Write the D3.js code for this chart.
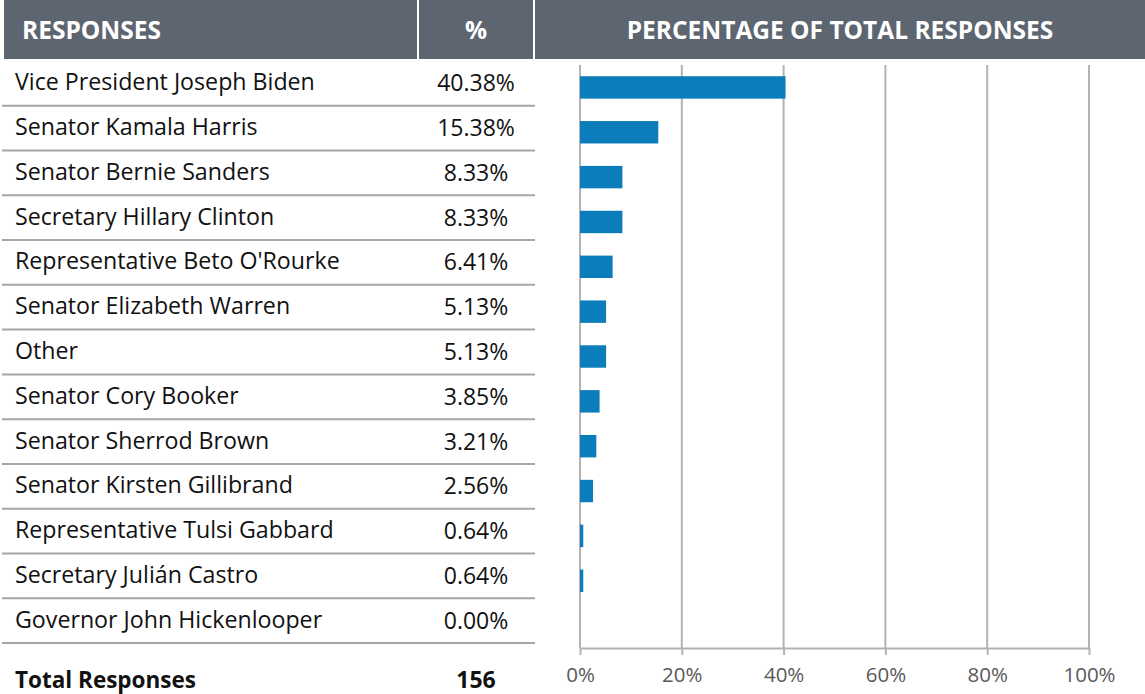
<!DOCTYPE html>
<html>
<head>
<meta charset="utf-8">
<script src="https://cdn.jsdelivr.net/npm/d3@7"></script>
<style>
  body { margin: 0; background: #fff; }
  svg { display: block; font-family: "Open Sans", sans-serif; }
</style>
</head>
<body>
<div id="chart"></div>
<script>
const responses = [
  "Vice President Joseph Biden",
  "Senator Kamala Harris",
  "Senator Bernie Sanders",
  "Secretary Hillary Clinton",
  "Representative Beto O'Rourke",
  "Senator Elizabeth Warren",
  "Other",
  "Senator Cory Booker",
  "Senator Sherrod Brown",
  "Senator Kirsten Gillibrand",
  "Representative Tulsi Gabbard",
  "Secretary Julián Castro",
  "Governor John Hickenlooper"
];
const percents = [40.38, 15.38, 8.33, 8.33, 6.41, 5.13, 5.13, 3.85, 3.21, 2.56, 0.64, 0.64, 0.00];
const axisTicks = [0, 20, 40, 60, 80, 100];
const headers = ["RESPONSES", "%", "PERCENTAGE OF TOTAL RESPONSES"];
const totalLabel = "Total Responses";
const totalValue = 156;

const width = 1145, height = 694;
const rows = responses.map((name, i) => ({ name, pct: percents[i] }));

const svg = d3.select("#chart").append("svg")
  .attr("width", width)
  .attr("height", height);

// header band
const cols = [
  { x0: 4, x1: 418, anchor: "start", tx: 22 },
  { x0: 418, x1: 534, anchor: "middle", tx: 476 },
  { x0: 534, x1: width, anchor: "middle", tx: 840 }
];
svg.append("rect")
  .attr("x", 4).attr("y", 0)
  .attr("width", width - 4).attr("height", 59)
  .attr("fill", "#5d6670");
cols.slice(1).forEach(c => {
  svg.append("line")
    .attr("x1", c.x0).attr("x2", c.x0)
    .attr("y1", 0).attr("y2", 59)
    .attr("stroke", "#fff").attr("stroke-width", 2);
});
svg.append("g").selectAll("text")
  .data(headers)
  .join("text")
  .attr("x", (d, i) => cols[i].tx)
  .attr("y", 39)
  .attr("text-anchor", (d, i) => cols[i].anchor)
  .attr("fill", "#fff")
  .attr("font-weight", "bold")
  .attr("font-size", 24.5)
  .text(d => d);

// table rows
const rowY = d3.scaleBand()
  .domain(responses)
  .range([61, 643]);

const table = svg.append("g");
table.selectAll("line")
  .data(rows)
  .join("line")
  .attr("x1", 2).attr("x2", 535)
  .attr("y1", d => rowY(d.name) + rowY.bandwidth())
  .attr("y2", d => rowY(d.name) + rowY.bandwidth())
  .attr("stroke", "#a6a6a6").attr("stroke-width", 2);

table.selectAll("text.name")
  .data(rows)
  .join("text")
  .attr("class", "name")
  .attr("x", 15)
  .attr("y", d => rowY(d.name) + rowY.bandwidth() / 2 + 7)
  .attr("font-size", 23.2)
  .attr("fill", "#111")
  .text(d => d.name);

table.selectAll("text.pct")
  .data(rows)
  .join("text")
  .attr("class", "pct")
  .attr("x", 476)
  .attr("y", d => rowY(d.name) + rowY.bandwidth() / 2 + 8)
  .attr("text-anchor", "middle")
  .attr("font-size", 23)
  .attr("fill", "#111")
  .text(d => d.pct.toFixed(2) + "%");

svg.append("text")
  .attr("x", 15).attr("y", 688)
  .attr("font-size", 22.5).attr("font-weight", "bold")
  .attr("fill", "#111")
  .text(totalLabel);
svg.append("text")
  .attr("x", 476).attr("y", 688)
  .attr("text-anchor", "middle")
  .attr("font-size", 23).attr("font-weight", "bold")
  .attr("fill", "#111")
  .text(totalValue);

// bar chart
const x = d3.scaleLinear().domain([0, 100]).range([580, 1089]);
const y = d3.scaleBand()
  .domain(responses)
  .range([65, 648])
  .paddingInner(0.5)
  .paddingOuter(0.25);

svg.append("g").selectAll("line")
  .data(axisTicks)
  .join("line")
  .attr("x1", d => x(d)).attr("x2", d => x(d))
  .attr("y1", 65).attr("y2", 648)
  .attr("stroke", "#b3b3b3").attr("stroke-width", 2);

svg.append("g").selectAll("rect")
  .data(rows)
  .join("rect")
  .attr("x", x(0))
  .attr("y", d => y(d.name))
  .attr("width", d => x(d.pct) - x(0))
  .attr("height", y.bandwidth())
  .attr("fill", "#0b7dbb");

svg.append("g")
  .attr("transform", "translate(0,648)")
  .call(d3.axisBottom(x).tickValues(axisTicks).tickFormat(d => d + "%").tickSize(7).tickSizeOuter(0).tickPadding(12))
  .call(g => g.selectAll(".domain, .tick line").attr("stroke", "#b3b3b3").attr("stroke-width", 2))
  .call(g => g.selectAll(".tick text")
    .attr("font-family", "Open Sans, sans-serif")
    .attr("font-size", 20.5)
    .attr("fill", "#595959"));
</script>
</body>
</html>
